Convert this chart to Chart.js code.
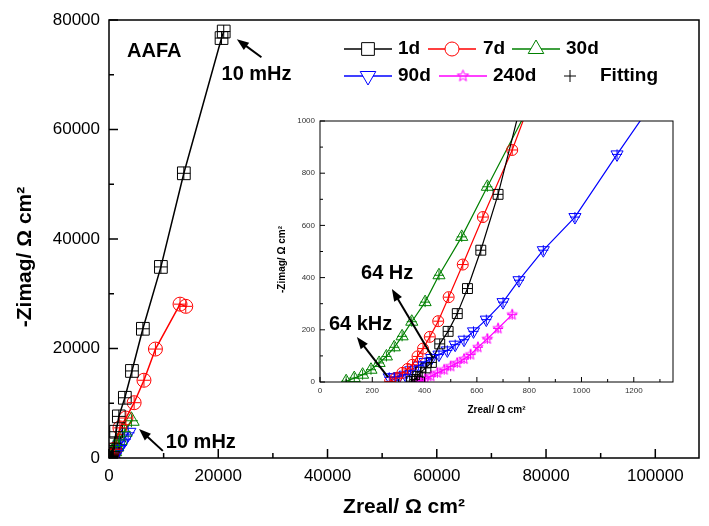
<!DOCTYPE html>
<html>
<head>
<meta charset="utf-8">
<script src="https://cdn.jsdelivr.net/npm/chart.js@4.4.1/dist/chart.umd.min.js"></script>
<style>
  body { margin: 0; background: #fff; }
  #box { position: relative; width: 709px; height: 526px; }
  #box canvas { position: absolute; }
</style>
</head>
<body>
<div id="box">
  <canvas id="mainChart" width="709" height="526" style="left:0;top:0"></canvas>
  <canvas id="insetChart" width="410" height="310" style="left:272px;top:110px"></canvas>
</div>
<script>
// Nyquist data, Zreal / -Zimag in ohm cm2, per immersion time
const seriesLabels = ['1d', '7d', '30d', '90d', '240d'];
const seriesColors = ['#000000', '#ff0000', '#008000', '#0000ff', '#ff00ff'];

const zre1d = [350, 362, 372, 385, 405, 426, 458, 490, 525, 564, 615, 681, 790, 1000, 1300, 1800, 2900, 4200, 6200, 9500, 13700, 20600, 21000];
const zim1d = [3, 10, 22, 38, 54, 75, 146, 194, 262, 358, 505, 719, 1150, 2700, 4800, 7600, 11000, 15900, 23600, 34900, 52000, 76700, 77900];

const zre7d = [268, 290, 315, 335, 354, 373, 394, 420, 452, 492, 546, 623, 735, 1000, 2000, 3100, 4600, 6400, 8500, 13000, 14050];
const zim7d = [2, 15, 35, 50, 66, 98, 128, 173, 233, 325, 450, 632, 889, 1600, 5500, 7300, 10100, 14200, 19900, 28100, 27700];

const zre30d = [100, 131, 163, 195, 226, 254, 284, 314, 351, 402, 455, 542, 640, 900, 1300, 1900, 2800, 4100];
const zim30d = [3, 15, 28, 47, 73, 98, 133, 175, 231, 306, 409, 556, 748, 1250, 2100, 3300, 4800, 6800];

const zre90d = [265, 284, 303, 326, 347, 377, 402, 427, 455, 487, 517, 551, 587, 636, 700, 761, 854, 975, 1136, 1500, 2100, 2800, 3500];
const zim90d = [18, 18, 22, 28, 45, 63, 77, 92, 105, 121, 143, 162, 194, 239, 306, 390, 505, 632, 872, 1400, 2300, 3400, 4600];

const zre240d = [373, 386, 402, 424, 449, 475, 500, 525, 551, 576, 604, 640, 681, 735];
const zim240d = [3, 6, 12, 22, 35, 47, 60, 73, 88, 105, 133, 165, 205, 258];

// axis ticks
const mainXTicks = [0, 20000, 40000, 60000, 80000, 100000];
const mainXMinor = [10000, 30000, 50000, 70000, 90000];
const mainYTicks = [0, 20000, 40000, 60000, 80000];
const mainYMinor = [10000, 30000, 50000, 70000];
const insetXTicks = [0, 200, 400, 600, 800, 1000, 1200];
const insetXMinor = [100, 300, 500, 700, 900, 1100, 1300];
const insetYTicks = [0, 200, 400, 600, 800, 1000];
const insetYMinor = [100, 300, 500, 700, 900];

const series = [
  { re: zre1d, im: zim1d },
  { re: zre7d, im: zim7d },
  { re: zre30d, im: zim30d },
  { re: zre90d, im: zim90d },
  { re: zre240d, im: zim240d }
];

const FONT = '"Liberation Sans", Arial, sans-serif';
Chart.defaults.font.family = FONT;
Chart.defaults.color = '#000';

// open five-point star marker
function starMarker(r, color) {
  const c = document.createElement('canvas');
  const s = Math.ceil(r * 2 + 3);
  c.width = c.height = s;
  const g = c.getContext('2d');
  g.strokeStyle = color;
  g.lineWidth = 1;
  g.beginPath();
  for (let i = 0; i < 10; i++) {
    const rr = i % 2 ? r * 0.42 : r;
    const a = -Math.PI / 2 + i * Math.PI / 5;
    const px = s / 2 + rr * Math.cos(a), py = s / 2 + rr * Math.sin(a);
    if (i) g.lineTo(px, py); else g.moveTo(px, py);
  }
  g.closePath();
  g.stroke();
  return c;
}

const styles = ['rect', 'circle', 'triangle', 'triangle', null];
const rotations = [0, 0, 0, 180, 0];

function buildSets(radii, starR, crossR, lineW) {
  const sets = [];
  series.forEach((s, i) => {
    const pts = s.re.map((v, k) => ({ x: v, y: s.im[k] }));
    sets.push({
      label: seriesLabels[i],
      data: pts,
      showLine: true,
      borderColor: seriesColors[i],
      borderWidth: lineW,
      pointBorderColor: seriesColors[i],
      pointBackgroundColor: 'rgba(0,0,0,0)',
      pointBorderWidth: 1,
      pointStyle: styles[i] || starMarker(starR, seriesColors[i]),
      pointRotation: rotations[i],
      pointRadius: radii[i],
      clip: 0,
      order: 2
    });
    // fitted values
    sets.push({
      label: seriesLabels[i] + ' fit',
      data: pts,
      showLine: false,
      pointStyle: 'cross',
      pointRadius: crossR,
      pointBorderWidth: 1,
      pointBorderColor: seriesColors[i],
      clip: 0,
      order: 1
    });
  });
  return sets;
}

function makeAxis(o) {
  return {
    type: 'linear',
    min: o.min,
    max: o.max,
    bounds: 'data',
    grid: { display: false, drawTicks: false },
    border: { display: false },
    afterBuildTicks: s => { s.ticks = o.ticks.map(v => ({ value: v })); },
    afterFit: s => {
      if (o.width) s.width = o.width;
      if (o.height) s.height = o.height;
    },
    ticks: {
      autoSkip: false, maxRotation: 0, minRotation: 0,
      padding: o.pad, color: o.color || '#000', font: o.font,
      callback: v => String(v)
    },
    title: o.title
      ? { display: true, text: o.title, font: o.titleFont, color: '#000', padding: o.titlePad }
      : { display: false }
  };
}

// box frame with inward tick marks
const frameTicks = {
  id: 'frameTicks',
  afterDatasetsDraw(chart, args, o) {
    const { ctx, chartArea: a, scales: { x, y } } = chart;
    ctx.save();
    ctx.strokeStyle = '#000';
    ctx.lineWidth = o.lineWidth;
    ctx.strokeRect(a.left, a.top, a.right - a.left, a.bottom - a.top);
    ctx.beginPath();
    const markX = (vals, len) => vals.forEach(v => {
      const px = x.getPixelForValue(v);
      ctx.moveTo(px, a.bottom); ctx.lineTo(px, a.bottom - len);
    });
    const markY = (vals, len) => vals.forEach(v => {
      const py = y.getPixelForValue(v);
      ctx.moveTo(a.left, py); ctx.lineTo(a.left + len, py);
    });
    markX(o.xMajor, o.major); markX(o.xMinor, o.minor);
    markY(o.yMajor, o.major); markY(o.yMinor, o.minor);
    ctx.stroke();
    ctx.restore();
  }
};

// rotated y title, sitting a little below the frame's middle
const yTitle = {
  id: 'yTitle',
  afterDraw(chart, args, o) {
    const { ctx, chartArea: a } = chart;
    ctx.save();
    ctx.translate(o.x, (a.top + a.bottom) / 2 + o.shift);
    ctx.rotate(-Math.PI / 2);
    ctx.font = o.font;
    ctx.fillStyle = '#000';
    ctx.textAlign = 'center';
    ctx.textBaseline = 'middle';
    ctx.fillText(o.text, 0, 0);
    ctx.restore();
  }
};

function drawArrow(ctx, x0, y0, x1, y1, w) {
  const ang = Math.atan2(y1 - y0, x1 - x0);
  const hl = 12, hw = 4.5;
  const c = Math.cos(ang), s = Math.sin(ang);
  ctx.lineWidth = w;
  ctx.beginPath();
  ctx.moveTo(x0, y0);
  ctx.lineTo(x1 - c * hl * 0.8, y1 - s * hl * 0.8);
  ctx.stroke();
  ctx.beginPath();
  ctx.moveTo(x1, y1);
  ctx.lineTo(x1 - c * hl - s * hw, y1 - s * hl + c * hw);
  ctx.lineTo(x1 - c * hl + s * hw, y1 - s * hl - c * hw);
  ctx.closePath();
  ctx.fill();
}

// text labels and frequency arrows, placed in data units
const notes = {
  id: 'notes',
  afterDatasetsDraw(chart, args, o) {
    const { ctx, scales: { x, y } } = chart;
    ctx.save();
    ctx.fillStyle = '#000';
    ctx.strokeStyle = '#000';
    ctx.font = o.font;
    ctx.textBaseline = 'middle';
    o.items.forEach(n => {
      if (n.text) ctx.fillText(n.text, x.getPixelForValue(n.x), y.getPixelForValue(n.y));
      if (n.from) {
        drawArrow(ctx, x.getPixelForValue(n.from[0]), y.getPixelForValue(n.from[1]),
          x.getPixelForValue(n.to[0]), y.getPixelForValue(n.to[1]), 2);
      }
    });
    ctx.restore();
  }
};

// two-row legend inside the main frame
const legendRows = {
  id: 'legendRows',
  afterDraw(chart, args, o) {
    const { ctx } = chart;
    ctx.save();
    ctx.font = o.font;
    ctx.textBaseline = 'middle';
    o.items.forEach(it => {
      const ds = chart.data.datasets[it.ds];
      ctx.strokeStyle = ds.borderColor;
      ctx.lineWidth = 1.5;
      ctx.beginPath();
      ctx.moveTo(it.x, it.y); ctx.lineTo(it.x + o.sample, it.y);
      ctx.stroke();
      ctx.fillStyle = '#fff';
      ctx.lineWidth = 1;
      Chart.helpers.drawPoint(ctx, {
        pointStyle: ds.pointStyle, rotation: ds.pointRotation,
        radius: ds.pointRadius, borderWidth: 1
      }, it.x + o.sample / 2, it.y);
      ctx.fillStyle = '#000';
      ctx.fillText(ds.label, it.tx, it.y);
    });
    const f = o.fit;
    ctx.strokeStyle = '#000';
    ctx.lineWidth = 1;
    ctx.beginPath();
    ctx.moveTo(f.x - 6, f.y); ctx.lineTo(f.x + 6, f.y);
    ctx.moveTo(f.x, f.y - 6); ctx.lineTo(f.x, f.y + 6);
    ctx.stroke();
    ctx.fillStyle = '#000';
    ctx.fillText('Fitting', f.tx, f.y);
    ctx.restore();
  }
};

new Chart(document.getElementById('mainChart'), {
  type: 'scatter',
  data: { datasets: buildSets([9, 7, 9, 9], 6, 6.5, 1.5) },
  options: {
    responsive: false,
    animation: false,
    events: [],
    layout: { padding: { top: 20, right: 8, left: 0, bottom: 0 } },
    scales: {
      x: makeAxis({ min: 0, max: 108000, ticks: mainXTicks, height: 68, pad: 8,
        font: { size: 17 }, title: 'Zreal/ Ω cm²', titleFont: { size: 21, weight: 'bold' }, titlePad: { bottom: 6 } }),
      y: makeAxis({ min: 0, max: 80000, ticks: mainYTicks, width: 109, pad: 9, font: { size: 17 } })
    },
    plugins: {
      legend: { display: false },
      tooltip: { enabled: false },
      frameTicks: { lineWidth: 1.5, major: 9, minor: 5,
        xMajor: mainXTicks, xMinor: mainXMinor, yMajor: mainYTicks, yMinor: mainYMinor },
      yTitle: { text: '-Zimag/ Ω cm²', x: 25, shift: 18, font: 'bold 21px ' + FONT },
      notes: {
        font: 'bold 20px ' + FONT,
        items: [
          { text: 'AAFA', x: 3300, y: 74300 },
          { text: '10 mHz', x: 20600, y: 70100, from: [27900, 73200], to: [23400, 76500] },
          { text: '10 mHz', x: 10400, y: 2750, from: [9850, 1300], to: [5500, 5300] }
        ]
      },
      legendRows: {
        font: 'bold 19px ' + FONT,
        sample: 48,
        items: [
          { ds: 0, x: 344, y: 49, tx: 398 },
          { ds: 2, x: 428, y: 49, tx: 483 },
          { ds: 4, x: 512, y: 49, tx: 566 },
          { ds: 6, x: 344, y: 76, tx: 398 },
          { ds: 8, x: 439, y: 76, tx: 493 }
        ],
        fit: { x: 570, y: 76, tx: 600 }
      }
    }
  },
  plugins: [frameTicks, notes, legendRows, yTitle]
});

new Chart(document.getElementById('insetChart'), {
  type: 'scatter',
  data: { datasets: buildSets([7, 5.5, 7, 7], 5.5, 5, 1.2) },
  options: {
    responsive: false,
    animation: false,
    events: [],
    layout: { padding: { top: 11, right: 9, left: 0, bottom: 0 } },
    scales: {
      x: makeAxis({ min: 0, max: 1350, ticks: insetXTicks, height: 38, pad: 4, color: '#333',
        font: { size: 8 }, title: 'Zreal/ Ω cm²', titleFont: { size: 10, weight: 'bold' }, titlePad: { bottom: 4 } }),
      y: makeAxis({ min: 0, max: 1000, ticks: insetYTicks, width: 48, pad: 5, color: '#333', font: { size: 8 } })
    },
    plugins: {
      legend: { display: false },
      tooltip: { enabled: false },
      frameTicks: { lineWidth: 1, major: 5, minor: 3,
        xMajor: insetXTicks, xMinor: insetXMinor, yMajor: insetYTicks, yMinor: insetYMinor },
      yTitle: { text: '-Zimag/ Ω cm²', x: 10, shift: 8, font: 'bold 10px ' + FONT },
      notes: {
        font: 'bold 20px ' + FONT,
        items: [
          { text: '64 Hz', x: 157, y: 414, from: [432, 92], to: [275, 356] },
          { text: '64 kHz', x: 34, y: 222, from: [260, 19], to: [141, 172] }
        ]
      }
    }
  },
  plugins: [frameTicks, notes, yTitle]
});
</script>
</body>
</html>
